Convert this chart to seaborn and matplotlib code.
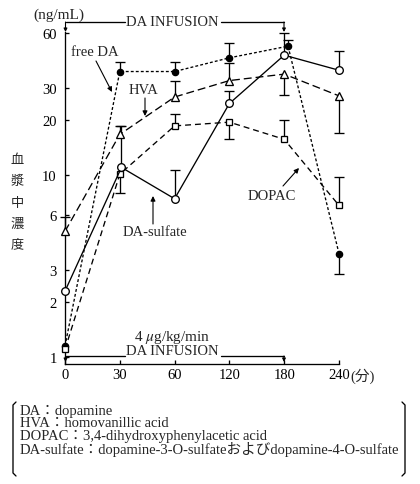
import numpy as np
import pandas as pd
import matplotlib
matplotlib.use("Agg")
import matplotlib.pyplot as plt
import seaborn as sns
from matplotlib.ticker import NullLocator
from matplotlib.lines import Line2D

# ---------------- data ----------------
times = ["0", "30", "60", "120", "180", "240"]
free_da = [1.15, 37, 37, 44, 51, 3.7]
free_da_err = [None, 42, 42, 53, 55, 2.85]
hva = [4.9, 16.7, 26.8, 33, 35.8, 27.2]
hva_err = [5.9, 18.6, 32.7, 41, 27.5, 16.9]
dopac = [1.1, 10.1, 18.6, 19.5, 15.7, 6.8]
dopac_err = [None, 8.0, 21.5, 15.7, 20, 9.7]
da_sulfate = [2.3, 11, 7.4, 24.7, 45.5, 37.6]
da_sulfate_err = [None, 18.6, 10.6, 28.9, 60, 48]
yticks = [1, 2, 3, 6, 10, 20, 30, 60]
legend_lines = [
    "DA：dopamine",
    "HVA：homovanillic acid",
    "DOPAC：3,4-dihydroxyphenylacetic acid",
    "DA-sulfate：dopamine-3-O-sulfateおよびdopamine-4-O-sulfate",
]
ylabel_chars = ["血", "漿", "中", "濃", "度"]

# ---------------- style ----------------
sns.set_style("ticks")
plt.rcParams["font.family"] = ["Liberation Serif", "Noto Sans CJK JP", "DejaVu Sans"]
plt.rcParams["mathtext.fontset"] = "stix"

W, H = 420, 485
fig = plt.figure(figsize=(W / 100, H / 100), dpi=100)
ax = fig.add_axes([65 / W, 1 - 365 / H, 274 / W, 332 / H])


def fx(px):
    return px / W


def fy(py):
    return 1 - py / H


pos = np.arange(len(times), dtype=float)
LW = 0.95
FS = 10.5

series = [
    ("free DA", free_da, free_da_err, dict(marker="o", mfc="black", ms=4.5), (0, (2.2, 1.6)), [0, 0, 0, 0, 0.07, 0]),
    ("HVA", hva, hva_err, dict(marker="^", mfc="white", ms=6), (0, (6, 3)), [0, 0, 0, 0, 0, 0]),
    ("DOPAC", dopac, dopac_err, dict(marker="s", mfc="white", ms=5), (0, (4.5, 3)), [0, 0, 0, 0, 0, 0]),
    ("DA-sulfate", da_sulfate, da_sulfate_err, dict(marker="o", mfc="white", ms=5.5), "-", [0, 0.03, 0, 0, 0, 0]),
]

for name, vals, errs, mk, ls, shift in series:
    xs = pos + np.array(shift)
    df = pd.DataFrame({"x": xs, "y": vals})
    # error bars (one-sided)
    for xi, yi, ei in zip(xs, vals, errs):
        if ei is None:
            continue
        ax.vlines(xi, yi, ei, color="black", lw=LW, zorder=2, clip_on=False)
        ax.plot([xi], [ei], marker="_", ms=6.5, mew=LW, color="black", zorder=2, clip_on=False)
    sns.lineplot(data=df, x="x", y="y", ax=ax, color="black", lw=LW, linestyle=ls,
                 mec="black", mew=LW, clip_on=False, zorder=3, sort=False, **mk)

ax.set_yscale("log")
ax.set_ylim(0.915, 61)
ax.set_xlim(0, 5)
ax.set_yticks(yticks)
ax.set_yticklabels([str(t) for t in yticks], fontsize=FS)
ax.yaxis.set_minor_locator(NullLocator())
ax.set_xticks(pos)
ax.set_xticklabels(times, fontsize=FS)
ax.tick_params(axis="both", direction="in", length=3, width=LW, color="black", labelcolor="black")
ax.tick_params(axis="y", pad=6)
ax.tick_params(axis="x", pad=3)
ax.set_xlabel("")
ax.set_ylabel("")
for s in ["top", "right"]:
    ax.spines[s].set_visible(False)
for s in ["left", "bottom"]:
    ax.spines[s].set_linewidth(LW)
    ax.spines[s].set_color("black")
ax.patch.set_alpha(0)

# (分) after 240
fig.text(fx(350), fy(376), "(分)", fontsize=FS, ha="left", va="center")

# units
fig.text(fx(59), fy(15), "(ng/mL)", fontsize=FS + 0.5, ha="center", va="center")

# y label (vertical characters)
for i, ch in enumerate(ylabel_chars):
    fig.text(fx(17), fy(161 + i * 21), ch, fontsize=9.5, ha="center", va="center",
             family=["Noto Sans CJK JP"])

arrow_kw = dict(arrowstyle="-|>", color="black", lw=0.8, mutation_scale=7, shrinkA=0, shrinkB=0)

# series labels with arrows
fig.text(fx(95), fy(53), "free DA", fontsize=FS, ha="center", va="center")
ax.annotate("", xy=(fx(112), fy(93)), xytext=(fx(96), fy(62)), xycoords="figure fraction",
            textcoords="figure fraction", arrowprops=arrow_kw)
fig.text(fx(144), fy(90), "HVA", fontsize=FS, ha="center", va="center")
ax.annotate("", xy=(fx(145), fy(117)), xytext=(fx(145), fy(99)), xycoords="figure fraction",
            textcoords="figure fraction", arrowprops=arrow_kw)
fig.text(fx(155), fy(233), "DA-sulfate", fontsize=FS, ha="center", va="center")
ax.annotate("", xy=(fx(153), fy(197)), xytext=(fx(153), fy(225)), xycoords="figure fraction",
            textcoords="figure fraction", arrowprops=arrow_kw)
fig.text(fx(272), fy(196), "DOPAC", fontsize=FS, ha="center", va="center")
ax.annotate("", xy=(fx(299), fy(169)), xytext=(fx(283), fy(187)), xycoords="figure fraction",
            textcoords="figure fraction", arrowprops=arrow_kw)

# infusion brackets
small_arrow = dict(arrowstyle="-|>", color="black", lw=0.8, mutation_scale=5, shrinkA=0, shrinkB=0)


def bracket(y_line, y_tip, x0, x1, t0, t1):
    fig.add_artist(Line2D([fx(x0), fx(t0)], [fy(y_line), fy(y_line)], color="black", lw=LW))
    fig.add_artist(Line2D([fx(t1), fx(x1)], [fy(y_line), fy(y_line)], color="black", lw=LW))
    for xx in (x0, x1):
        ax.annotate("", xy=(fx(xx), fy(y_tip)), xytext=(fx(xx), fy(y_line)), xycoords="figure fraction",
                    textcoords="figure fraction", arrowprops=small_arrow, annotation_clip=False)


bracket(23, 33, 65.5, 284, 125, 221)
fig.text(fx(172), fy(23), "DA INFUSION", fontsize=FS, ha="center", va="center")
bracket(357, 363, 65.5, 284, 125, 221)
fig.text(fx(172), fy(352), "DA INFUSION", fontsize=FS, ha="center", va="center")
fig.text(fx(172), fy(338), r"4 $\mathit{\mu}$g/kg/min", fontsize=FS + 0.5, ha="center", va="center")

# definitions box
for i, line in enumerate(legend_lines):
    fig.text(fx(20), fy(411 + i * 12.8), line, fontsize=10.5, ha="left", va="center")
fig.add_artist(Line2D([fx(16), fx(13), fx(13), fx(16)], [fy(403), fy(406), fy(474), fy(477)],
                      color="black", lw=LW))
fig.add_artist(Line2D([fx(402), fx(405), fx(405), fx(402)], [fy(403), fy(406), fy(474), fy(477)],
                      color="black", lw=LW))

fig.savefig("out.png", dpi=100)
